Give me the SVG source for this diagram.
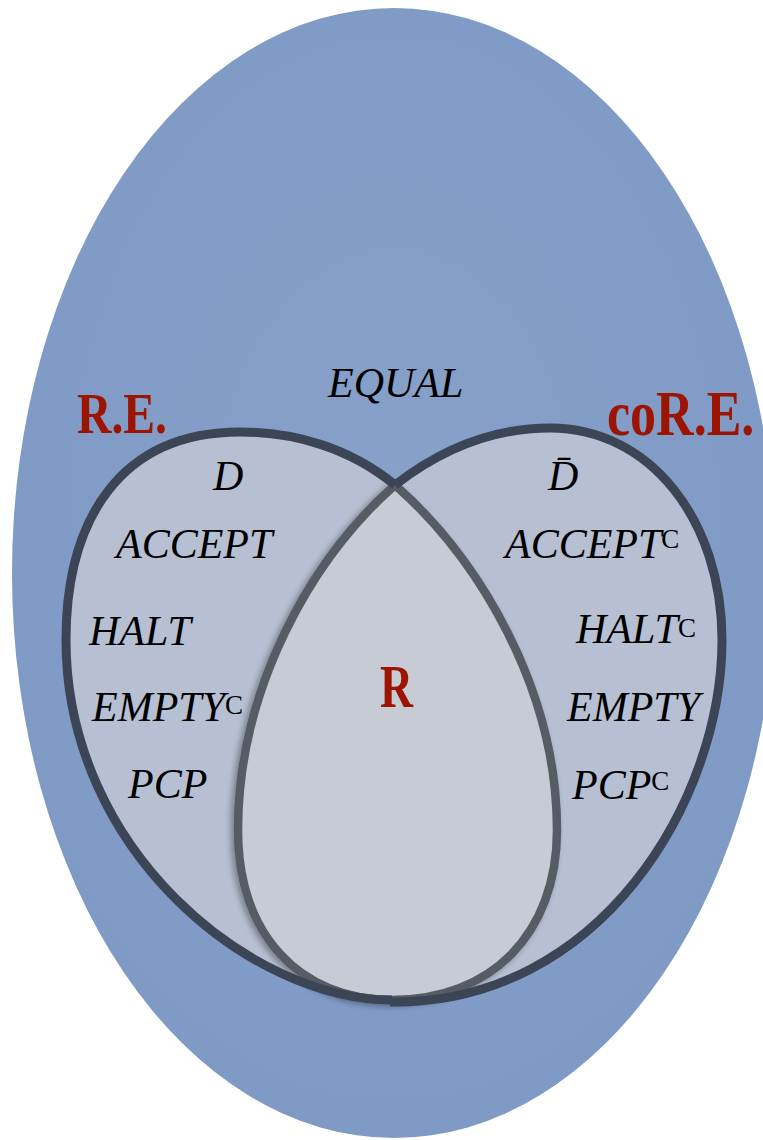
<svg xmlns="http://www.w3.org/2000/svg" width="763" height="1140" viewBox="0 0 763 1140">
  <defs>
    <radialGradient id="bg" cx="0.5" cy="0.45" r="0.6">
      <stop offset="0" stop-color="#87a1ca"/>
      <stop offset="1" stop-color="#7e99c4"/>
    </radialGradient>
    <filter id="shadow" x="-10%" y="-10%" width="120%" height="120%">
      <feGaussianBlur in="SourceAlpha" stdDeviation="3"/>
      <feOffset dx="-3" dy="2" result="b"/>
      <feComponentTransfer><feFuncA type="linear" slope="0.35"/></feComponentTransfer>
      <feMerge><feMergeNode/><feMergeNode in="SourceGraphic"/></feMerge>
    </filter>
    <style>
      .lang { font-family: "Liberation Serif", "Times New Roman", serif; font-style: italic; font-size: 42px; fill: #000; }
      .sup { font-style: normal; font-size: 27px; }
      .cls { font-family: "Liberation Serif", "Times New Roman", serif; font-weight: bold; fill: #9c1503; }
      .set-fill { fill: #b6c0d2; stroke: none; }
      .set-line { fill: none; stroke: #3b4556; stroke-width: 9; stroke-linecap: butt; }
      .r-shape { fill: #c7cbd4; stroke: #575b63; stroke-width: 8.5; }
    </style>
  </defs>

  <rect x="0" y="0" width="763" height="1140" fill="#ffffff"/>

  <g id="universe">
    <ellipse cx="394" cy="573" rx="382" ry="565" fill="url(#bg)"/>
  </g>

  <g id="re-set-fill">
    <path class="set-fill" d="M395,485 C350,448 295,432 240,432 C120,432 66,520 66,640 C66,850 250,1000 390,1000 C490,1000 557,935 557,830 C557,690 480,560 395,485 Z"/>
  </g>
  <g id="core-set-fill">
    <path class="set-fill" d="M395,485 C440,450 490,428 550,428 C650,428 722,520 722,640 C722,800 600,1005 395,1004 C300,1000 238,935 238,830 C238,690 310,560 395,485 Z"/>
  </g>

  <g id="r-set" filter="url(#shadow)">
    <path class="r-shape" d="M395,485 C480,560 557,690 557,830 C557,935 490,1000 392,1000 C300,1000 238,935 238,830 C238,690 310,560 395,485 Z"/>
  </g>

  <g id="re-set">
    <path class="set-line" d="M395,485 C350,448 295,432 240,432 C120,432 66,520 66,640 C66,850 250,1000 392,1000"/>
  </g>
  <g id="core-set">
    <path class="set-line" d="M395,485 C440,450 490,428 550,428 C650,428 722,520 722,640 C722,800 600,1005 390,1002"/>
  </g>

  <g id="labels">
    <text class="cls" x="77" y="433" font-size="57" textLength="90" lengthAdjust="spacingAndGlyphs">R.E.</text>
    <text class="cls" x="0" y="0" font-size="52" transform="translate(607,435) scale(1,1.22)">coR.E.</text>
    <text class="cls" x="380" y="707" font-size="62" textLength="33" lengthAdjust="spacingAndGlyphs">R</text>
  </g>

  <g id="outside-langs">
    <text class="lang" x="328" y="397">EQUAL</text>
  </g>

  <g id="re-langs">
    <text class="lang" x="213" y="490">D</text>
    <text class="lang" x="116" y="558">ACCEPT</text>
    <text class="lang" x="89" y="645">HALT</text>
    <text class="lang" x="92" y="721">EMPTY<tspan class="sup" dy="-7">C</tspan></text>
    <text class="lang" x="128" y="798">PCP</text>
  </g>

  <g id="core-langs">
    <text class="lang" x="548" y="490">D&#x0304;</text>
    <text class="lang" x="505" y="558">ACCEPT<tspan class="sup" dy="-10">C</tspan></text>
    <text class="lang" x="576" y="643">HALT<tspan class="sup" dy="-6">C</tspan></text>
    <text class="lang" x="567" y="721">EMPTY</text>
    <text class="lang" x="572" y="799">PCP<tspan class="sup" dy="-9">C</tspan></text>
  </g>
</svg>
